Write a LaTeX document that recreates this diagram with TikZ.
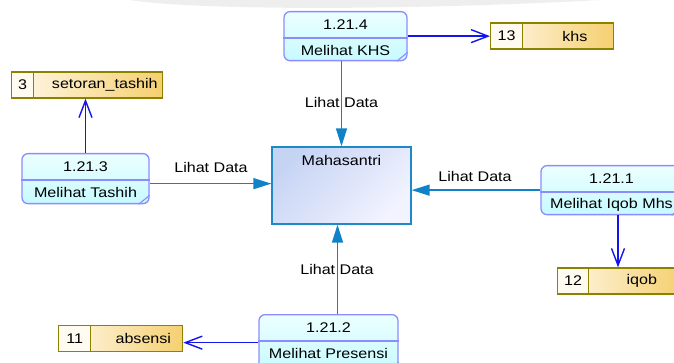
\documentclass[tikz,border=0pt]{standalone}
\usepackage{fontspec}
\setmainfont[FakeStretch=1.15]{Liberation Sans}
\usetikzlibrary{arrows.meta, positioning, calc}
\definecolor{procline}{RGB}{140,140,255}
\definecolor{proctop}{RGB}{236,255,255}
\definecolor{procbot}{RGB}{198,250,255}
\definecolor{msline}{RGB}{30,136,200}
\definecolor{mstop}{RGB}{198,212,244}
\definecolor{msbot}{RGB}{242,243,255}
\definecolor{dsline}{RGB}{140,130,0}
\definecolor{dsleft}{RGB}{255,248,234}
\definecolor{dsright}{RGB}{245,208,112}
\definecolor{dsidc}{RGB}{255,251,241}
\definecolor{flowc}{RGB}{16,130,200}
\definecolor{storec}{RGB}{20,20,240}

\begin{document}
\begin{tikzpicture}[x=1pt, y=-1pt,
    font=\fontsize{14}{16}\selectfont,
    proc/.style={rectangle, draw=procline, line width=1.3pt, rounded corners=6pt, top color=proctop, bottom color=procbot, anchor=north},
    ent/.style={rectangle, draw=msline, line width=1.3pt, top color=mstop, bottom color=msbot, shading angle=45, minimum width=139pt, minimum height=77pt},
    ds/.style={rectangle, draw=dsline, line width=1.3pt, left color=dsleft, right color=dsright, minimum height=26pt, anchor=west},
    dsid/.style={rectangle, draw=dsline, line width=1.3pt, fill=dsidc, minimum height=26pt, anchor=west},
    flow/.style={-{Triangle[length=18pt,width=11pt]}, flowc, line width=1.4pt},
    acc/.style={-{Straight Barb[length=17pt,width=13pt]}, storec, line width=1.4pt}
]
\useasboundingbox (0,0) rectangle (674,363);
\clip (0,0) rectangle (674,363);
\fill[gray!13] (130,0) .. controls (200,11) and (420,10) .. (600,0) -- cycle;

\node[ent] (ms) at (341.5,185.5) {};
\node (ms-name) at ([yshift=-14pt]ms.north) {Mahasantri};

\node[proc, minimum width=123pt, minimum height=49pt] (p4) at (345.5,11) {};
\node[proc, minimum width=127pt, minimum height=50pt] (p3) at (85.5,153) {};
\node[proc, minimum width=141pt, minimum height=49pt] (p1) at (611.5,165) {};
\node[proc, minimum width=139pt, minimum height=56pt] (p2) at (328.5,314) {};
\foreach \p/\num/\name in {p4/1.21.4/Melihat KHS, p3/1.21.3/Melihat Tashih, p1/1.21.1/Melihat Iqob Mhs, p2/1.21.2/Melihat Presensi} {
    \draw[procline, line width=1.3pt] ([yshift=-27pt]\p.north west) -- ([yshift=-27pt]\p.north east);
    \draw[procline, line width=1.1pt] ([xshift=-11pt]\p.south east) -- ([yshift=9pt]\p.south east);
    \node (\p-num) at ([yshift=-14pt]\p.north) {\num};
    \node (\p-name) at ([yshift=-39.5pt]\p.north) {\name};
}

\node[ds, minimum width=123pt] (khs) at (490,36) {};
\node[ds, minimum width=151pt] (tsh) at (11,85) {};
\node[ds, minimum width=124pt] (iqb) at (557,281) {};
\node[ds, minimum width=124pt] (abs) at (58,338.5) {};
\foreach \s/\id/\w/\name in {khs/13/32/khs, tsh/3/22/setoran\_tashih, iqb/12/31/iqob, abs/11/32/absensi} {
    \node[dsid, minimum width=\w pt] (\s-id) at (\s.west) {\id};
    \node (\s-name) at ($(\s-id.east)!0.5!(\s.east)+(6,0)$) {\name};
}

\draw[acc] (p4.east) -- (p4.east -| khs.west);
\draw[acc] (p3.north) -- (p3.north |- tsh.south);
\draw[acc] ([xshift=6.5pt]p1.south) -- ([xshift=6.5pt]p1.south |- iqb.north);
\draw[acc] (p2.west) -- (p2.west -| abs.east);

\draw[flow] (p4.south -| ms.north) -- (ms.north);
\draw[flow] ([xshift=9pt]p2.north) -- ([xshift=9pt]p2.north |- ms.south);
\draw[flow] ([yshift=-5pt]p3.east) -- ([yshift=-5pt]p3.east -| ms.west);
\draw[flow] (p1.west) -- (p1.west -| ms.east);

\node (l4) at (341.5,102) {Lihat Data};
\node (l3) at (211,167) {Lihat Data};
\node (l1) at (475,176) {Lihat Data};
\node (l2) at (337,269) {Lihat Data};
\end{tikzpicture}
\end{document}
